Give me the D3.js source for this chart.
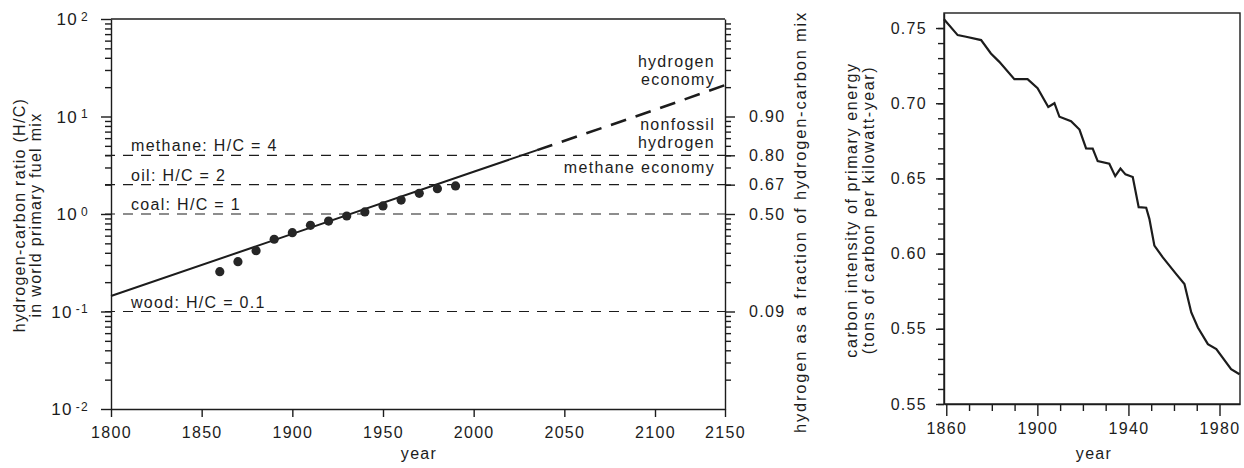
<!DOCTYPE html>
<html>
<head>
<meta charset="utf-8">
<script src="https://cdn.jsdelivr.net/npm/d3@7"></script>
<style>
  body { margin: 0; background: #fff; }
  svg text { font-family: "Liberation Sans", Arial, sans-serif; fill: #1c1c1c; letter-spacing: 1.3px; }
  .axis path, .axis line { stroke: #1c1c1c; stroke-width: 1.4; }
</style>
</head>
<body>
<script>
// ---- left panel: hydrogen-carbon ratio ----
const hcYears  = [1860, 1870, 1880, 1890, 1900, 1910, 1920, 1930, 1940, 1950, 1960, 1970, 1980, 1990];
const hcValues = [0.256, 0.324, 0.421, 0.551, 0.644, 0.766, 0.847, 0.954, 1.05, 1.21, 1.39, 1.63, 1.82, 1.94];

const fitYears   = [1800, 1900, 2000, 2035];
const fitValues  = [0.144, 0.625, 2.71, 4.52];
const projYears  = [2035, 2100, 2150];
const projValues = [4.52, 11.7, 21.0];

const refValues = [4, 2, 1, 0.1];
const refLabels = ["methane: H/C = 4", "oil: H/C = 2", "coal: H/C = 1", "wood: H/C = 0.1"];

const fracValues = [10, 4, 2, 1, 0.1];
const fracLabels = ["0.90", "0.80", "0.67", "0.50", "0.09"];

const logMajors = [0.01, 0.1, 1, 10, 100];
const yearTicks = [1800, 1850, 1900, 1950, 2000, 2050, 2100, 2150];

// ---- right panel: carbon intensity ----
const ciYears  = [1859, 1865, 1868.7, 1875.3, 1879.6, 1883.3, 1889.9, 1895.7, 1900.1, 1904.8, 1907.5, 1909.7,
                  1914.8, 1918.5, 1921.4, 1924.3, 1926.5, 1931.6, 1934.2, 1936.5, 1938.7, 1941.9, 1944.5, 1947.8,
                  1949.2, 1951.4, 1955.1, 1961, 1964.6, 1967.6, 1970.5, 1974.9, 1978.6, 1985.1, 1988.8];
const ciValues = [0.7558, 0.7453, 0.7442, 0.742, 0.7331, 0.7275, 0.716, 0.716, 0.710, 0.6975, 0.700, 0.691,
                  0.688, 0.6825, 0.670, 0.6698, 0.6615, 0.6598, 0.6515, 0.6565, 0.6527, 0.6509, 0.6309, 0.6305,
                  0.6231, 0.6053, 0.5975, 0.5864, 0.5798, 0.5609, 0.5509, 0.5398, 0.5365, 0.5231, 0.5198];
const ciTicks      = [0.50, 0.55, 0.60, 0.65, 0.70, 0.75];
const ciTickLabels = ["0.55", "0.55", "0.60", "0.65", "0.70", "0.75"];
const ciYearTicks  = [1860, 1900, 1940, 1980];

const W = 1244, H = 468;
const svg = d3.select("body").append("svg").attr("width", W).attr("height", H);
const ink = "#1c1c1c";

// ================= left panel =================
const x = d3.scaleLinear().domain([1800, 2100, 2150]).range([111, 655, 725]);
const y = d3.scaleLog().domain([0.01, 100]).range([409, 19]);

const logMinors = [];
[0.01, 0.1, 1, 10].forEach(b => d3.range(2, 10).forEach(k => logMinors.push(+(b * k).toPrecision(3))));

// frame top
svg.append("line")
  .attr("x1", x(1800)).attr("x2", x(2150)).attr("y1", y(100)).attr("y2", y(100))
  .attr("stroke", ink).attr("stroke-width", 1.4);

// left axis minor ticks
svg.append("g").attr("class", "axis").attr("transform", `translate(${x(1800)},0)`)
  .call(d3.axisLeft(y).tickValues(logMinors).tickSize(6).tickFormat(() => ""))
  .call(g => g.select(".domain").remove());

// left axis majors with superscript labels
svg.append("g").attr("class", "axis").attr("transform", `translate(${x(1800)},0)`)
  .call(d3.axisLeft(y).tickValues(logMajors).tickSize(10).tickSizeOuter(0).tickFormat(() => ""))
  .call(g => g.selectAll(".tick text")
    .attr("x", -22).attr("dy", "0.35em").attr("text-anchor", "end").attr("font-size", 17)
    .each(function(d) {
      const t = d3.select(this);
      t.append("tspan").text("10");
      t.append("tspan").attr("dx", 3).attr("dy", "-0.4em").attr("font-size", 12)
        .text(Math.round(Math.log10(d)));
    }));

// right axis: minor log ticks + hydrogen fraction
svg.append("g").attr("class", "axis").attr("transform", `translate(${x(2150)},0)`)
  .call(d3.axisRight(y).tickValues(logMinors).tickSize(6).tickFormat(() => ""))
  .call(g => g.select(".domain").remove());
svg.append("g").attr("class", "axis").attr("transform", `translate(${x(2150)},0)`)
  .call(d3.axisRight(y).tickValues(fracValues).tickSize(10).tickSizeOuter(0).tickPadding(14)
    .tickFormat((d, i) => fracLabels[i]))
  .call(g => g.selectAll(".tick text").attr("font-size", 16));

// bottom axis
svg.append("g").attr("class", "axis").attr("transform", `translate(0,${y(0.01)})`)
  .call(d3.axisBottom(x).tickValues(yearTicks).tickSize(8).tickSizeOuter(0).tickPadding(10).tickFormat(d3.format("d")))
  .call(g => g.selectAll(".tick text").attr("font-size", 16));

// reference dashed lines
svg.append("g").selectAll("line").data(refValues).join("line")
  .attr("x1", x(1800) - 6).attr("x2", x(2150))
  .attr("y1", d => y(d)).attr("y2", d => y(d))
  .attr("stroke", ink).attr("stroke-width", 1.2).attr("stroke-dasharray", "10,8");
svg.append("g").selectAll("text").data(refValues).join("text")
  .attr("x", x(1800) + 20).attr("y", d => y(d) - 4)
  .attr("font-size", 16)
  .text((d, i) => refLabels[i]);

// fit line and projection
const lineGen = d3.line().x(d => x(d[0])).y(d => y(d[1]));
svg.append("path").datum(d3.zip(fitYears, fitValues))
  .attr("d", lineGen).attr("fill", "none").attr("stroke", ink).attr("stroke-width", 2);
svg.append("path").datum(d3.zip(projYears, projValues))
  .attr("d", lineGen).attr("fill", "none").attr("stroke", ink).attr("stroke-width", 2.6)
  .attr("stroke-dasharray", "16,10");

// observed points
svg.append("g").selectAll("circle").data(d3.zip(hcYears, hcValues)).join("circle")
  .attr("cx", d => x(d[0])).attr("cy", d => y(d[1])).attr("r", 4.6)
  .attr("fill", "#262626");

// region labels at right
const regionX = x(2150) - 10;
const regions = [
  { lines: ["hydrogen", "economy"], v: 32 },
  { lines: ["nonfossil", "hydrogen"], v: 7.3 },
  { lines: ["methane economy"], v: 2.63 }
];
regions.forEach(r => {
  svg.append("text").attr("x", regionX).attr("y", y(r.v))
    .attr("text-anchor", "end").attr("font-size", 16)
    .selectAll("tspan").data(r.lines).join("tspan")
    .attr("x", regionX).attr("dy", (d, i) => i ? 18 : 0).text(d => d);
});

// axis titles
svg.append("text").attr("transform", "translate(25,215) rotate(-90)")
  .attr("text-anchor", "middle").attr("font-size", 16)
  .selectAll("tspan").data(["hydrogen-carbon ratio (H/C)", "in world primary fuel mix"]).join("tspan")
  .attr("x", 0).attr("dy", (d, i) => i ? 16 : 0).text(d => d);
svg.append("text").attr("transform", "translate(806,222) rotate(-90)")
  .attr("text-anchor", "middle").attr("font-size", 16.5).style("letter-spacing", "1.8px")
  .text("hydrogen as a fraction of hydrogen-carbon mix");
svg.append("text").attr("x", 419).attr("y", 459).attr("text-anchor", "middle")
  .attr("font-size", 16).text("year");

// ================= right panel =================
const x2 = d3.scaleLinear().domain([1859, 1989]).range([944, 1240]);
const y2 = d3.scaleLinear().domain([0.50, 0.76]).range([404, 13]);

svg.append("rect")
  .attr("x", x2(1859)).attr("y", y2(0.76))
  .attr("width", x2(1989) - x2(1859)).attr("height", y2(0.50) - y2(0.76))
  .attr("fill", "none").attr("stroke", ink).attr("stroke-width", 1.4);

svg.append("g").attr("class", "axis").attr("transform", `translate(${x2(1859)},0)`)
  .call(d3.axisLeft(y2).tickValues(d3.range(50, 76).map(v => v / 100)).tickSize(6).tickFormat(() => ""))
  .call(g => g.select(".domain").remove());
svg.append("g").attr("class", "axis").attr("transform", `translate(${x2(1859)},0)`)
  .call(d3.axisLeft(y2).tickValues(ciTicks).tickSize(8).tickSizeOuter(0).tickPadding(9)
    .tickFormat((d, i) => ciTickLabels[i]))
  .call(g => g.selectAll(".tick text").attr("font-size", 16));

svg.append("g").attr("class", "axis").attr("transform", `translate(0,${y2(0.50)})`)
  .call(d3.axisBottom(x2).tickValues(d3.range(1870, 1990, 10).filter(v => !ciYearTicks.includes(v))).tickSize(7).tickFormat(() => ""))
  .call(g => g.select(".domain").remove());
svg.append("g").attr("class", "axis").attr("transform", `translate(0,${y2(0.50)})`)
  .call(d3.axisBottom(x2).tickValues(ciYearTicks).tickSize(12).tickSizeOuter(0).tickPadding(7).tickFormat(d3.format("d")))
  .call(g => g.selectAll(".tick text").attr("font-size", 16));

svg.append("path").datum(d3.zip(ciYears, ciValues))
  .attr("d", d3.line().x(d => x2(d[0])).y(d => y2(d[1])))
  .attr("fill", "none").attr("stroke", ink).attr("stroke-width", 2.2);

svg.append("text").attr("transform", "translate(857,210) rotate(-90)")
  .attr("text-anchor", "middle").attr("font-size", 16).style("letter-spacing", "1.6px")
  .selectAll("tspan").data(["carbon intensity of primary energy", "(tons of carbon per kilowatt-year)"]).join("tspan")
  .attr("x", 0).attr("dy", (d, i) => i ? 17 : 0).text(d => d);
svg.append("text").attr("x", 1094).attr("y", 459).attr("text-anchor", "middle")
  .attr("font-size", 16).text("year");
</script>
</body>
</html>
